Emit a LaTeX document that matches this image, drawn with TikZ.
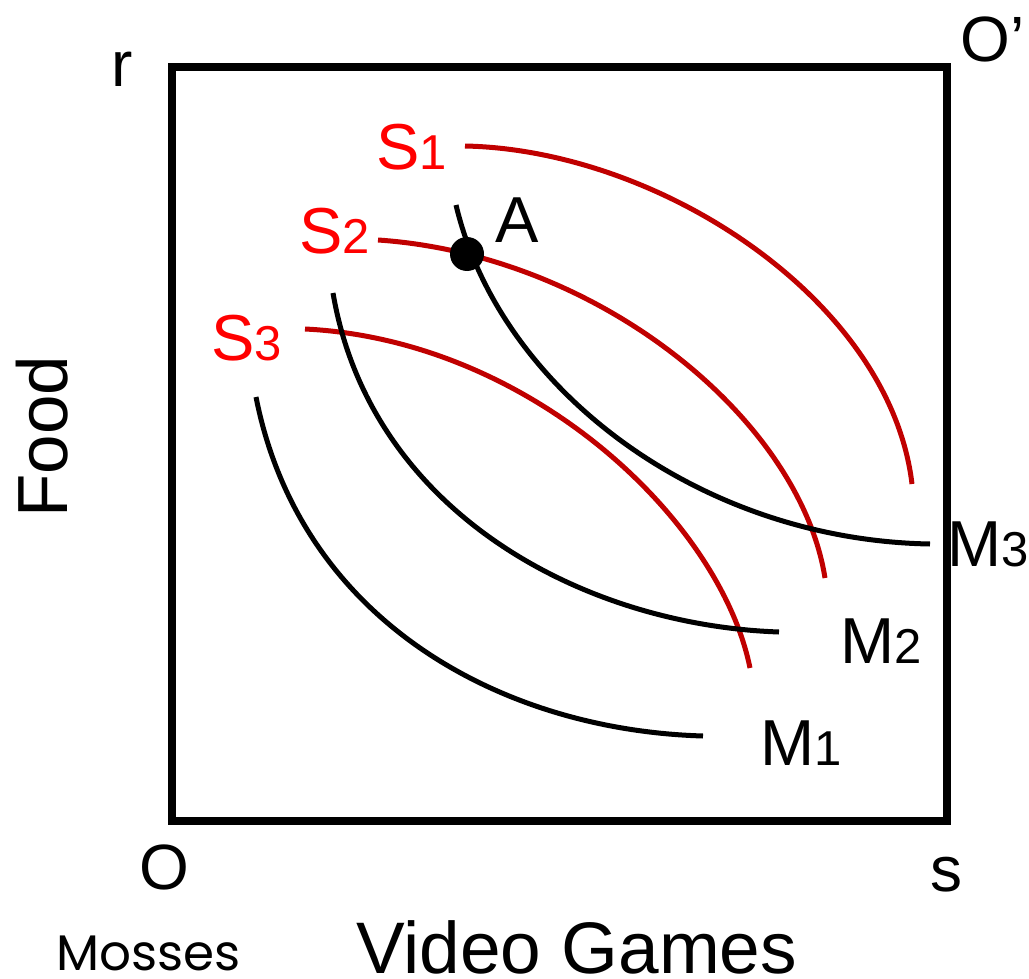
\documentclass[tikz,border=0pt]{standalone}
\usepackage{fontspec}
\setmainfont{Liberation Sans}
\newfontfamily\geofont{Poppins}
\definecolor{curvered}{HTML}{C00000}
\definecolor{labelred}{HTML}{FF0000}
\newcommand{\bigfs}{\fontsize{65}{68}\selectfont}
\newcommand{\smallfs}{\fontsize{49}{52}\selectfont}
\tikzset{
  lbl/.style={inner sep=0pt, anchor=base west},
  redcurve/.style={draw=curvered, line width=5pt, line cap=butt},
  blackcurve/.style={draw=black, line width=5pt, line cap=butt},
  frame/.style={draw=black, line width=8pt, line join=miter},
}
\begin{document}
\begin{tikzpicture}[x=1pt,y=-1pt]
\useasboundingbox[fill=white] (0,0) rectangle (1029,979);
\draw[frame] (172,67) rectangle (947,821);
% S curves
\draw[redcurve] (465,146) .. controls (660,150) and (890,300) .. (912,484);
\draw[redcurve] (378,240) .. controls (600,255) and (800,420) .. (825,578);
\draw[redcurve] (305,329) .. controls (530,340) and (720,520) .. (750,668);
% M curves
\draw[blackcurve] (456,205) .. controls (500,390) and (700,540) .. (930,544);
\draw[blackcurve] (333,293) .. controls (370,510) and (580,625) .. (779,632);
\draw[blackcurve] (256,397) .. controls (300,620) and (500,730) .. (703,736);
% point A
\node[circle, fill=black, inner sep=0pt, minimum size=34pt] (ptA) at (467,254) {};
\node[lbl] (labA) at (495,243) {\bigfs A};
% labels S
\node[lbl, text=labelred] (s1) at (376,170) {\bigfs S\smallfs 1};
\node[lbl, text=labelred] (s2) at (299,253) {\bigfs S\smallfs 2};
\node[lbl, text=labelred] (s3) at (211,360) {\bigfs S\smallfs 3};
% labels M
\node[lbl] (m3) at (947,566) {\bigfs M\smallfs 3};
\node[lbl] (m2) at (840,663) {\bigfs M\smallfs 2};
\node[lbl] (m1) at (760,765) {\bigfs M\smallfs 1};
% corner labels
\node[lbl] (o) at (139,889) {\fontsize{64}{66}\selectfont O};
\node[lbl] (s) at (930,891) {\fontsize{64}{66}\selectfont s};
\node[lbl] (r) at (111,87) {\fontsize{64}{66}\selectfont r};
\node[lbl] (op) at (960,62) {\fontsize{64}{66}\selectfont O’};
% axis titles
\node[lbl, rotate=90] (food) at (67,518) {\fontsize{71}{74}\selectfont Food};
\node[lbl] (vg) at (356,973) {\fontsize{73}{76}\selectfont Video Games};
\node[lbl] (mosses) at (56,970) {\geofont\fontsize{50}{52}\selectfont Mosses};
\end{tikzpicture}
\end{document}
